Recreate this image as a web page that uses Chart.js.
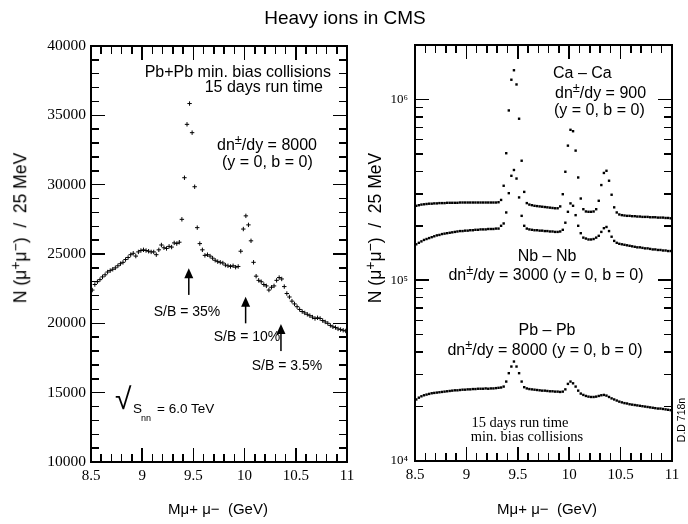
<!DOCTYPE html>
<html>
<head>
<meta charset="utf-8">
<script src="https://cdn.jsdelivr.net/npm/chart.js@4.4.1/dist/chart.umd.min.js"></script>
<style>
  body { margin: 0; background: #fff; }
  #page { position: relative; width: 688px; height: 524px; overflow: hidden; background: #fff; }
  canvas { position: absolute; top: 0; }
  .t { position: absolute; white-space: pre; line-height: 1; color: #000;
       font-family: 'Liberation Sans', Arial, sans-serif; font-size: 16px; }
  .c { transform: translate(-50%, -50%); }
  .l { transform: translate(0, -50%); }
  .r { transform: translate(-100%, -50%); }
  .v { transform: translate(-50%, -50%) rotate(-90deg); }
  .serif { font-family: 'Liberation Serif', 'Times New Roman', serif; }
  .sup { position: relative; top: -0.45em; font-size: 0.8em; }
  .tick { position: absolute; background: #000; }
</style>
</head>
<body>
<div id="page">
  <canvas id="left" width="360" height="524" style="left:0"></canvas>
  <canvas id="right" width="336" height="524" style="left:352px"></canvas>

  <div class="t c" style="left:345px; top:17px; font-size:19px">Heavy ions in CMS</div>

  <!-- left panel -->
  <div class="t r" style="left:331px; top:72px">Pb+Pb min. bias collisions</div>
  <div class="t r" style="left:323px; top:87px">15 days run time</div>
  <div class="t l" style="left:217px; top:145px">dn<span class="sup">±</span>/dy = 8000</div>
  <div class="t l" style="left:222px; top:162px">(y = 0, b = 0)</div>
  <div class="t c" style="left:187px; top:311px; font-size:14px">S/B = 35%</div>
  <div class="t c" style="left:247px; top:336px; font-size:14px">S/B = 10%</div>
  <div class="t c" style="left:287px; top:365px; font-size:14px">S/B = 3.5%</div>
  <div class="t l" style="left:115px; top:399px; font-size:30px">√</div>
  <div class="t l" style="left:133px; top:409px; font-size:13.5px">S</div>
  <div class="t l" style="left:141px; top:418px; font-size:9px">nn</div>
  <div class="t l" style="left:157px; top:409px; font-size:13.5px">= 6.0 TeV</div>
  <div class="t v" style="left:21px; top:228px; font-size:17.5px">N (μ<span class="sup">+</span>μ<span class="sup">−</span>)  /  25 MeV</div>
  <div class="t c" style="left:218px; top:508px; font-size:15px">Mμ+ μ−  (GeV)</div>

  <!-- right panel -->
  <div class="t l" style="left:553px; top:73px">Ca – Ca</div>
  <div class="t l" style="left:555px; top:93px">dn<span class="sup">±</span>/dy = 900</div>
  <div class="t l" style="left:554px; top:110px">(y = 0, b = 0)</div>
  <div class="t c" style="left:547px; top:256px">Nb – Nb</div>
  <div class="t c" style="left:546px; top:275px">dn<span class="sup">±</span>/dy = 3000 (y = 0, b = 0)</div>
  <div class="t c" style="left:547px; top:330px">Pb – Pb</div>
  <div class="t c" style="left:545px; top:350px">dn<span class="sup">±</span>/dy = 8000 (y = 0, b = 0)</div>
  <div class="t c serif" style="left:520px; top:422px; font-size:14.5px">15 days run time</div>
  <div class="t c serif" style="left:527px; top:436px; font-size:14.5px">min. bias collisions</div>
  <div class="t v" style="left:681px; top:420px; font-size:10.5px">D.D 718n</div>
  <div class="t v" style="left:376px; top:228px; font-size:17.5px">N (μ<span class="sup">+</span>μ<span class="sup">−</span>)  /  25 MeV</div>
  <div class="t c" style="left:547px; top:508px; font-size:15px">Mμ+ μ−  (GeV)</div>
  <div id="ticks"></div>
</div>

<script>
// 25 MeV bins from 8.5 to 11 GeV
const binLow = 8.5;
const binWidth = 0.025;

// left panel: Pb+Pb, dn/dy = 8000
const pbpbLeft = [
  22400, 22800, 23000, 23150, 23350, 23500, 23700, 23800, 23900, 24000,
  24150, 24300, 24400, 24600, 24750, 24950, 25050, 24850, 25150, 25250,
  25300, 25250, 25200, 25150, 25150, 24950, 25300, 25650, 25450, 25400,
  25550, 25500, 25800, 25750, 25850, 27500, 30500, 34350, 35850, 33750,
  29850, 26900, 25750, 25300, 24900, 24950, 24850, 24700, 24550, 24450,
  24400, 24350, 24200, 24150, 24100, 24150, 24050, 24100, 25200, 26800,
  27750, 27100, 25950, 24400, 23400, 23100, 23000, 22800, 22700, 22400,
  22600, 22700, 23100, 23300, 23200, 22650, 22150, 21900, 21600, 21400,
  21200, 21000, 20850, 20750, 20650, 20550, 20450, 20350, 20400, 20350,
  20200, 20100, 20000, 19850, 19750, 19700, 19600, 19550, 19500, 19450
];

// right panel (log scale)
const caca = [
  258000, 260000, 262000, 263000, 264000, 265000, 265000, 266000, 266000, 267000,
  267000, 267000, 268000, 268000, 268000, 268000, 268000, 269000, 269000, 269000,
  269000, 269000, 269000, 269000, 269000, 269000, 269000, 269000, 269000, 269000,
  269000, 269000, 270000, 278000, 333000, 504000, 869000, 1285000, 1450000, 1210000,
  782000, 458000, 308000, 267000, 262000, 260000, 258000, 257000, 256000, 255000,
  254000, 253000, 252000, 251000, 250000, 250000, 256000, 299000, 398000, 555000,
  679000, 667000, 521000, 370000, 283000, 247000, 240000, 239000, 239000, 240000,
  247000, 275000, 336000, 392000, 403000, 355000, 297000, 253000, 237000, 231000,
  229000, 228000, 227000, 227000, 226000, 226000, 225000, 225000, 224000, 224000,
  224000, 223000, 223000, 223000, 222000, 222000, 222000, 221000, 221000, 220000
];
const nbnb = [
  158000, 161000, 164000, 167000, 169000, 171000, 173000, 175000, 177000, 178000,
  180000, 181000, 182000, 183000, 184000, 185000, 186000, 187000, 187000, 188000,
  188000, 189000, 189000, 190000, 190000, 191000, 191000, 191000, 192000, 192000,
  192000, 193000, 193000, 200000, 206000, 237000, 303000, 378000, 407000, 365000,
  287000, 227000, 200000, 193000, 191000, 190000, 189000, 189000, 188000, 188000,
  187000, 187000, 186000, 186000, 185000, 185000, 186000, 190000, 208000, 239000,
  266000, 258000, 229000, 200000, 182000, 172000, 170000, 168000, 168000, 169000,
  172000, 176000, 185000, 194000, 197000, 187000, 174000, 165000, 161000, 159000,
  158000, 157000, 156000, 155000, 154000, 153000, 152000, 152000, 151000, 150000,
  150000, 149000, 148000, 148000, 147000, 147000, 146000, 146000, 145000, 145000
];
const pbpbRight = [
  21900, 22400, 22800, 23100, 23300, 23500, 23700, 23800, 23900, 24000,
  24100, 24200, 24300, 24400, 24500, 24600, 24600, 24700, 24800, 24800,
  24900, 24900, 25000, 25000, 25100, 25100, 25100, 25200, 25100, 25200,
  25200, 25300, 25400, 25500, 25800, 27500, 30600, 33300, 35500, 33300,
  30600, 27500, 25600, 25200, 25000, 24900, 24800, 24700, 24600, 24500,
  24500, 24400, 24300, 24300, 24200, 24200, 24100, 24200, 24900, 26700,
  27500, 26900, 25800, 24500, 23600, 23200, 22900, 22700, 22600, 22600,
  22700, 22900, 23100, 23200, 23000, 22600, 22200, 21900, 21600, 21300,
  21100, 20900, 20800, 20600, 20500, 20400, 20300, 20200, 20100, 20000,
  19900, 19800, 19700, 19600, 19500, 19500, 19400, 19300, 19200, 19100
];

const xMajorTicks = [8.5, 9, 9.5, 10, 10.5, 11];
const leftYTicks = [10000, 15000, 20000, 25000, 30000, 35000, 40000];
const rightYTicks = [1e4, 1e5, 1e6];
const rightYLabels = { 10000: '10⁴', 100000: '10⁵', 1000000: '10⁶' };

// S/B arrows: mass, tail, head
const arrows = [
  { x: 9.455, from: 22050, to: 23970 },
  { x: 10.01, from: 20000, to: 21920 },
  { x: 10.355, from: 18000, to: 19950 }
];

function toPoints(values) {
  return values.map((v, i) => ({ x: binLow + (i + 0.5) * binWidth, y: v }));
}

const xMinorTicks = [];
for (let i = 1; i < 25; i++) if (i % 5) xMinorTicks.push(8.5 + i * 0.1);
const leftYMinor = [];
for (let v = 11000; v < 40000; v += 1000) if (v % 5000) leftYMinor.push(v);
const rightYMinor = [];
for (const d of [1e4, 1e5]) for (let m = 2; m <= 9; m++) rightYMinor.push(m * d);

// frame around the plot area
const framePlugin = {
  id: 'framePlugin',
  afterDraw(chart) {
    const ctx = chart.ctx;
    const a = chart.chartArea;
    ctx.save();
    ctx.fillStyle = '#000';
    ctx.fillRect(a.left - 1, a.top - 1, a.right - a.left + 2, 2);
    ctx.fillRect(a.left - 1, a.bottom - 1, a.right - a.left + 2, 2);
    ctx.fillRect(a.left - 1, a.top - 1, 2, a.bottom - a.top + 2);
    ctx.fillRect(a.right - 1, a.top - 1, 2, a.bottom - a.top + 2);
    ctx.restore();
  }
};

// inward tick marks on all four sides, placed through the chart's scales
function addTicks(chart, offsetX, yMajor, yMinor) {
  const box = document.getElementById('ticks');
  const a = chart.chartArea;
  const x = chart.scales.x;
  const y = chart.scales.y;
  const w = 1.5;
  const mark = (l, t, wd, ht) => {
    const d = document.createElement('div');
    d.className = 'tick';
    d.style.left = l + 'px';
    d.style.top = t + 'px';
    d.style.width = wd + 'px';
    d.style.height = ht + 'px';
    box.appendChild(d);
  };
  const xt = (vals, len) => vals.forEach(v => {
    const px = offsetX + x.getPixelForValue(v) - w / 2;
    mark(px, a.bottom - len, w, len);
    mark(px, a.top, w, len);
  });
  const yt = (vals, len) => vals.forEach(v => {
    const py = y.getPixelForValue(v) - w / 2;
    mark(offsetX + a.left, py, len, w);
    mark(offsetX + a.right - len, py, len, w);
  });
  xt(xMajorTicks, 14);
  xt(xMinorTicks, 8);
  yt(yMajor, 14);
  yt(yMinor, 8);
}

const arrowPlugin = {
  id: 'arrowPlugin',
  afterDatasetsDraw(chart) {
    const { ctx, scales: { x, y } } = chart;
    ctx.save();
    ctx.fillStyle = '#000';
    arrows.forEach(ar => {
      const px = x.getPixelForValue(ar.x);
      const y0 = y.getPixelForValue(ar.from);
      const y1 = y.getPixelForValue(ar.to);
      ctx.fillRect(px - 0.75, y1 + 8, 1.5, y0 - y1 - 8);
      ctx.beginPath();
      ctx.moveTo(px, y1);
      ctx.lineTo(px - 4.5, y1 + 10);
      ctx.lineTo(px + 4.5, y1 + 10);
      ctx.closePath();
      ctx.fill();
    });
    ctx.restore();
  }
};

const tickFont = { family: "'Liberation Serif', 'Times New Roman', serif", size: 15 };

function xScale(height) {
  return {
    type: 'linear', min: 8.5, max: 11,
    afterBuildTicks: s => { s.ticks = xMajorTicks.map(v => ({ value: v })); },
    ticks: { font: tickFont, color: '#000', padding: 5, callback: v => String(v) },
    grid: { display: false, drawTicks: false },
    border: { display: false },
    afterFit: s => { s.height = height; }
  };
}

const leftChart = new Chart(document.getElementById('left'), {
  type: 'scatter',
  data: {
    datasets: [{
      data: toPoints(pbpbLeft),
      pointStyle: 'cross',
      pointRadius: 2.2,
      borderColor: '#000',
      borderWidth: 1,
      showLine: false
    }]
  },
  options: {
    responsive: false,
    animation: false,
    layout: { padding: { top: 46, right: 13, bottom: 0, left: 0 } },
    plugins: { legend: { display: false }, tooltip: { enabled: false } },
    scales: {
      x: xScale(62),
      y: {
        min: 10000, max: 40000,
        afterBuildTicks: s => { s.ticks = leftYTicks.map(v => ({ value: v })); },
        ticks: { font: { family: tickFont.family, size: 15.5 }, color: '#000', padding: 5, callback: v => String(v) },
        grid: { display: false, drawTicks: false },
        border: { display: false },
        afterFit: s => { s.width = 91; }
      }
    }
  },
  plugins: [framePlugin, arrowPlugin]
});

const dotStyle = {
  pointStyle: 'rect',
  pointRadius: 1.7,
  backgroundColor: '#000',
  borderWidth: 0,
  showLine: false
};

const rightChart = new Chart(document.getElementById('right'), {
  type: 'scatter',
  data: {
    datasets: [
      Object.assign({ label: 'Ca – Ca', data: toPoints(caca) }, dotStyle),
      Object.assign({ label: 'Nb – Nb', data: toPoints(nbnb) }, dotStyle),
      Object.assign({ label: 'Pb – Pb', data: toPoints(pbpbRight) }, dotStyle)
    ]
  },
  options: {
    responsive: false,
    animation: false,
    layout: { padding: { top: 45, right: 16, bottom: 0, left: 0 } },
    plugins: { legend: { display: false }, tooltip: { enabled: false } },
    scales: {
      x: xScale(63),
      y: {
        type: 'logarithmic', min: 1e4, max: 2e6,
        afterBuildTicks: s => { s.ticks = rightYTicks.map(v => ({ value: v })); },
        ticks: { font: { family: tickFont.family, size: 13 }, color: '#000', padding: 7, callback: v => rightYLabels[v] },
        grid: { display: false, drawTicks: false },
        border: { display: false },
        afterFit: s => { s.width = 63; }
      }
    }
  },
  plugins: [framePlugin]
});

addTicks(leftChart, 0, leftYTicks, leftYMinor);
addTicks(rightChart, 352, rightYTicks, rightYMinor);
</script>
</body>
</html>
